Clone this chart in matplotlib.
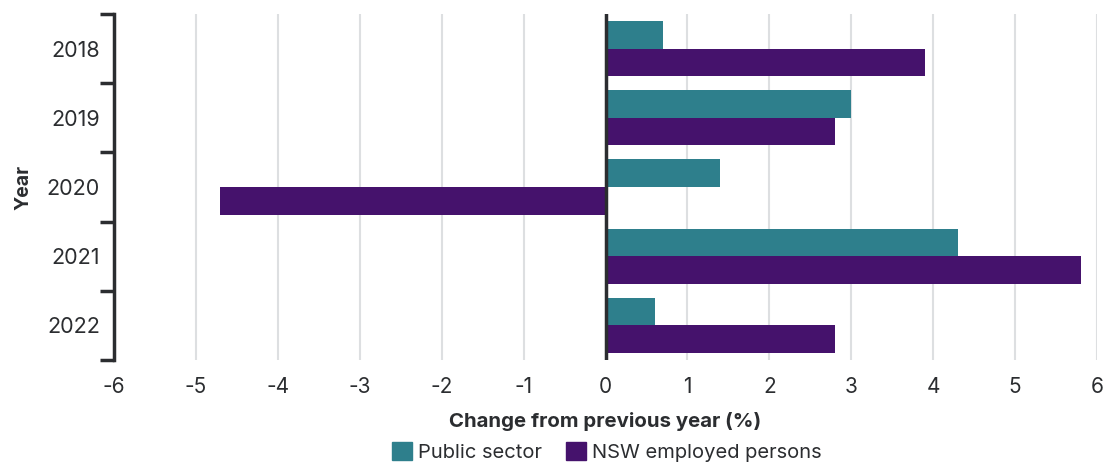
import numpy as np
import matplotlib
matplotlib.use('Agg')
import matplotlib.pyplot as plt
import matplotlib.patches as mpatches
from matplotlib.ticker import FixedLocator

years = ['2018', '2019', '2020', '2021', '2022']
public_sector = [0.7, 3.0, 1.4, 4.3, 0.6]
nsw_employed = [3.9, 2.8, -4.7, 5.8, 2.8]
x_ticks = [-6, -5, -4, -3, -2, -1, 0, 1, 2, 3, 4, 5, 6]

teal = '#2e7f8c'
purple = '#45126c'
txt = '#2b2d30'

plt.rcParams['font.family'] = ['Inter', 'DejaVu Sans']

fig = plt.figure(figsize=(11.07, 4.63), dpi=100)
ax = fig.add_axes([114/1107, 1-360/463, (1097-114)/1107, (360-14)/463])

y = np.arange(len(years))
h = 0.4
ax.barh(y - h/2, public_sector, height=h, color=teal, zorder=3, label='Public sector')
ax.barh(y + h/2, nsw_employed, height=h, color=purple, zorder=3, label='NSW employed persons')

ax.set_xlim(-6, 6)
ax.set_ylim(len(years) - 0.5, -0.5)
ax.set_xticks(x_ticks)
ax.set_xticklabels([str(t) for t in x_ticks])
ax.set_yticks(y)
ax.set_yticklabels(years)
ax.yaxis.set_minor_locator(FixedLocator(np.arange(-0.5, len(years), 1)))

ax.grid(axis='x', color='#dddfe1', lw=1.5, zorder=0)
ax.axvline(0, color=txt, lw=2.5, zorder=4)

for s in ['top', 'right', 'bottom']:
    ax.spines[s].set_visible(False)
ax.spines['left'].set_linewidth(2.5)
ax.spines['left'].set_color(txt)
ax.spines['left'].set_zorder(5)

ax.tick_params(axis='x', length=0, pad=12, labelsize=15, labelcolor=txt)
ax.tick_params(axis='y', which='major', length=0, pad=10, labelsize=15.5, labelcolor=txt)
ax.tick_params(axis='y', which='minor', length=10, width=2.5, color=txt)

ax.set_xlabel('Change from previous year (%)', fontsize=14.7, fontweight='bold', color=txt, labelpad=11)
ax.set_ylabel('Year', fontsize=14, fontweight='bold', color=txt, labelpad=10)

p0 = mpatches.Patch(color=teal, label='Public sector')
p1 = mpatches.Patch(color=purple, label='NSW employed persons')
fig.legend(handles=[p0, p1], loc='center', bbox_to_anchor=(607/1107, 1-452/463), ncol=2,
           frameon=False, fontsize=14.5, handlelength=1.0, handleheight=1.0,
           handletextpad=0.3, columnspacing=1.2, labelcolor=txt)

fig.savefig('out.png', dpi=100)
